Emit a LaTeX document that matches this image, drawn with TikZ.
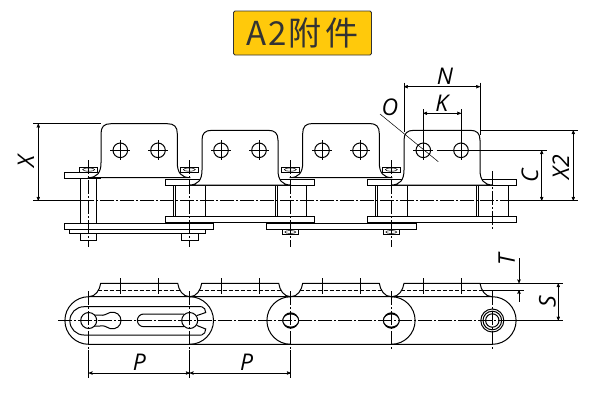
\documentclass[tikz,border=0pt]{standalone}
\usepackage{fontspec}
\setmainfont{Open Sans}
\newfontfamily\cjk{Noto Sans CJK SC}
\usetikzlibrary{arrows}
\definecolor{titlefill}{HTML}{FFC90B}
% top view of a lug: left, right, top, base
\newcommand{\lugtop}[4]{
	\draw[part,fill=white] ({#1-13},#4) .. controls ({#1-4},#4) and (#1,{#4-5}) .. (#1,{#4-15})
		-- (#1,{#3+10}) .. controls (#1,{#3+3}) and ({#1+3},#3) .. ({#1+10},#3)
		-- ({#2-10},#3) .. controls ({#2-3},#3) and (#2,{#3+3}) .. (#2,{#3+10})
		-- (#2,{#4-15}) .. controls (#2,{#4-5}) and ({#2+4},#4) .. ({#2+13},#4) -- cycle;
}
% lug seen from below: left, right
\newcommand{\lugside}[2]{
	\draw[part] ({#1-12},296.7) .. controls ({#1-5},296.7) and ({#1-1},290) .. (#1,283.3) -- (#2,283.3)
		.. controls ({#2+1},290) and ({#2+5},296.7) .. ({#2+12},296.7);
	\draw[hidden] ({#1-3},290) -- ({#2+3},290);
}
\begin{document}
\begin{tikzpicture}[x=1pt,y=-1pt,>=stealth',
		part/.style={draw=black,line width=1pt},
		thin line/.style={draw=black,line width=0.5pt},
		hidden/.style={draw=black,line width=0.7pt,dash pattern=on 4pt off 2pt},
		axis/.style={draw=black,line width=0.5pt,dash pattern=on 14pt off 2pt on 2pt off 2pt},
		dim/.style={draw=black,line width=0.5pt,<->},
		dimlabel/.style={font=\fontsize{23}{23}\selectfont\itshape,inner sep=0pt}]
	\useasboundingbox (0,0) rectangle (601,402);
	\node[draw=black!80,line width=0.9pt,rounded corners=1.5pt,fill=titlefill,text=black!80,
		minimum width=138pt,minimum height=44pt,inner sep=0pt] (title) at (302.5,33)
		{\cjk\fontsize{33}{33}\selectfont A\kern2pt 2\kern2pt 附\kern4pt 件};

	% side view: plates
	\foreach \x in {165.7,367.7} {
		\draw[part,fill=white] (\x,179) rectangle ({\x+149},185);
		\draw[part,fill=white] (\x,216.7) rectangle ({\x+149},222.7);
	}
	\draw[part] (64.3,172) rectangle (100,178.7);
	\foreach \x in {64.3,266.7} {
		\draw[part,fill=white] (\x,223.3) rectangle ({\x+149.3},229.7);
	}
	\draw[part] (69.3,229.7) rectangle (205.7,233.3);
	\foreach \x in {80.3,181.7} {
		\draw[part] (\x,233.3) rectangle ({\x+16.5},240.7);
	}
	\draw[part] (80.5,178.7) -- (80.5,223.3) (96.8,178.7) -- (96.8,223.3);
	% bushes
	\foreach \x in {173.7,275,375.7,476.7} {
		\draw[part] (\x,185) rectangle ({\x+31.7},216.7);
		\draw[thin line] ({\x+2},185) -- ({\x+2},216.7);
	}
	% pin ends
	\foreach \x in {88.7,189.3,290.3,391.3} {
		\draw[part,fill=white] ({\x-9},167.3) rectangle ({\x+9},172);
		\draw[thin line] (\x,169.6) ellipse (6 and 1.6);
	}
	\foreach \x in {290.3,391.3} {
		\draw[part,fill=white] ({\x-8},229.7) rectangle ({\x+8},234.5);
		\draw[thin line] (\x,232) ellipse (5.5 and 1.5);
	}
	% lugs
	\lugtop{101}{177.3}{123.7}{177.7}
	\lugtop{202}{278}{130.3}{185}
	\lugtop{302.7}{379.3}{123.5}{177.7}
	\lugtop{404}{480}{130.3}{185}
	\foreach \x/\y in {120.3/150.3,158/150.3,221/150.3,259/150.3,322/150.3,360/150.3,423.3/150.3,461/150.3} {
		\draw[part] (\x,\y) circle (7.3);
		\draw[thin line] ({\x-10},\y) -- ({\x+10},\y) (\x,{\y-10}) -- (\x,{\y+10});
	}
	% side view: axes
	\draw[axis] (80,200.7) -- (510,200.7);
	\foreach \x in {88.7,189.3,290.3,391.3} {
		\draw[axis] (\x,160) -- (\x,246.7);
	}
	\draw[axis] (492.3,171) -- (492.3,229);

	% plan view: outline
	\draw[part] (88.7,296.7) -- (492.3,296.7) arc[start angle=270,end angle=450,radius=23.8] -- (88.7,344.3)
		arc[start angle=90,end angle=270,radius=23.8];
	\foreach \x in {189.7,391.3} {
		\draw[part] (\x,296.7) arc[start angle=270,end angle=450,radius=23.8];
	}
	\draw[part] (290.7,296.7) arc[start angle=270,end angle=90,radius=23.8];
	\draw[part] (201.7,306.7) -- (84,306.7) arc[start angle=270,end angle=90,radius=14.15] -- (201.7,335);
	\draw[part] (201.7,306.7) .. controls (204,307) and (206,310) .. (205.7,312.5) -- (196.5,315.7);
	\draw[part] (201.7,335) .. controls (204,334.7) and (206,331.5) .. (205.7,329) -- (196.5,325.3);
	\draw[part] (88,315) -- (100,315) .. controls (104,316) and (106,314) .. (110,312.5)
		.. controls (116,311) and (121,315) .. (121,320.5) .. controls (121,326) and (116,330) .. (110,328.5)
		.. controls (106,327) and (104,325) .. (100,326) -- (88,326);
	\draw[part] (184,314) -- (143.7,314) arc[start angle=270,end angle=90,radius=6.35] -- (184,326.7);
	\foreach \x in {88.7,189.7} {
		\draw[part,fill=white] (\x,320.5) circle (8);
	}
	\foreach \x in {290.7,391.3} {
		\fill[black] (\x,320.5) circle (8.2);
		\draw[part,fill=white] (\x,320.5) ellipse (8 and 6.6);
	}
	\foreach \r in {11.5,9.3,6.7} {
		\draw[part] (492.3,320.5) circle (\r);
	}
	% lugs from below
	\lugside{100.7}{177.7}
	\lugside{201.7}{278.7}
	\lugside{302.7}{379.3}
	\lugside{404}{480}
	\foreach \x in {120.3,158,221,259,322,360,423.3,461} {
		\draw[thin line] (\x,278.3) -- (\x,294.3);
	}
	\draw[axis] (58,320.5) -- (505,320.5);
	\foreach \x in {88.7,189.7,290.7,391.3,492.3} {
		\draw[axis] (\x,291) -- (\x,350);
	}
	\foreach \x in {88.7,189.7,290.7} {
		\draw[thin line] (\x,350) -- (\x,378.3);
	}

	% dimensions
	\coordinate (xtop) at (38.3,123.7);
	\coordinate (xbot) at (38.3,200.7);
	\draw[thin line] (33,123.7) -- (101,123.7) (33,200.7) -- (80,200.7);
	\draw[dim] (xtop) -- (xbot);
	\node[dimlabel,rotate=90] (xlabel) at (26,161) {X};

	\coordinate (nleft) at (404,86.7);
	\coordinate (nright) at (480,86.7);
	\draw[thin line] (404,82.7) -- (404,132) (480,82.7) -- (480,135);
	\draw[dim] (nleft) -- (nright);
	\node[dimlabel] (nlabel) at (445,76) {N};

	\coordinate (kleft) at (423.3,113.3);
	\coordinate (kright) at (461,113.3);
	\draw[thin line] (423.3,109) -- (423.3,142) (461,109) -- (461,142);
	\draw[dim] (kleft) -- (kright);
	\node[dimlabel] (klabel) at (441.7,103) {K};

	\node[dimlabel] (olabel) at (390,107) {O};
	\draw[thin line] (380,114) -- (438.3,161.7);

	\draw[thin line] (436.7,150.3) -- (546.7,150.3) (480,130.3) -- (578,130.3) (508,200.7) -- (578,200.7);
	\coordinate (ctop) at (541.7,150.3);
	\coordinate (cbot) at (541.7,200.7);
	\draw[dim] (ctop) -- (cbot);
	\node[dimlabel,rotate=90] (clabel) at (530,176) {C};
	\coordinate (xatop) at (573.3,130.3);
	\coordinate (xabot) at (573.3,200.7);
	\draw[dim] (xatop) -- (xabot);
	\node[dimlabel,rotate=90] (xalabel) at (560.7,167) {X2};

	\draw[thin line] (480,283.3) -- (563.3,283.3) (480,290) -- (524,290) (503,320.5) -- (563.3,320.5);
	\coordinate (tabove) at (519,258.3);
	\coordinate (ttop) at (519,283.3);
	\coordinate (tbelow) at (519,301.7);
	\coordinate (tbot) at (519,290);
	\draw[thin line,->] (tabove) -- (ttop);
	\draw[thin line,->] (tbelow) -- (tbot);
	\node[dimlabel,rotate=90] (tlabel) at (506.7,260) {T};
	\coordinate (stop) at (558.3,283.3);
	\coordinate (sbot) at (558.3,320.5);
	\draw[dim] (stop) -- (sbot);
	\node[dimlabel,rotate=90] (slabel) at (547.3,301.7) {S};

	\coordinate (pa) at (88.7,373);
	\coordinate (pb) at (189.7,373);
	\coordinate (pc) at (290.7,373);
	\draw[dim] (pa) -- (pb);
	\draw[dim] (pb) -- (pc);
	\node[dimlabel] (pfirst) at (139.3,362) {P};
	\node[dimlabel] (psecond) at (246.7,362) {P};
\end{tikzpicture}
\end{document}
